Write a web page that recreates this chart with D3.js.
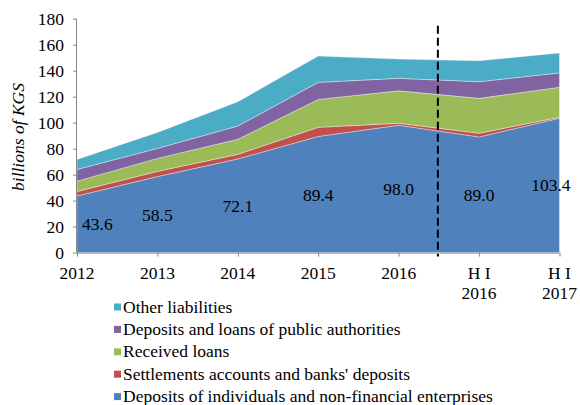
<!DOCTYPE html>
<html>
<head>
<meta charset="utf-8">
<script src="https://cdn.jsdelivr.net/npm/d3@7"></script>
<style>
  body { margin: 0; background: #fff; }
  svg { display: block; }
  text { font-family: "Liberation Serif", "Times New Roman", serif; fill: #000; }
</style>
</head>
<body>
<svg id="chart" width="580" height="405"></svg>
<script>
// ---- data ----
const categories = ["2012", "2013", "2014", "2015", "2016", "H I\n2016", "H I\n2017"];
const depositsIndividuals = [43.6, 58.5, 72.1, 89.4, 98.0, 89.0, 103.4];
const settlementsAccounts = [3.4, 4.0, 3.5, 7.0, 1.5, 2.8, 0.8];
const receivedLoans = [8.0, 10.0, 11.6, 21.5, 25.0, 26.9, 23.0];
const publicAuthorities = [9.0, 7.7, 10.2, 13.1, 9.6, 12.8, 11.1];
const otherLiabilities = [7.7, 12.3, 18.7, 20.2, 14.8, 16.1, 15.4];
const seriesNames = [
  "Deposits of individuals and non-financial enterprises",
  "Settlements accounts and banks' deposits",
  "Received loans",
  "Deposits and loans of public authorities",
  "Other liabilities"
];
const yTicks = [0, 20, 40, 60, 80, 100, 120, 140, 160, 180];

(function () {
// ---- setup ----
const FS = 17.5;
const colors = ["#4F81BD", "#C0504D", "#9BBB59", "#8064A2", "#4BACC6"];
const seriesValues = [depositsIndividuals, settlementsAccounts, receivedLoans, publicAuthorities, otherLiabilities];
const keys = seriesNames;
const rows = categories.map((c, i) => {
  const r = { cat: c };
  keys.forEach((k, j) => r[k] = seriesValues[j][i]);
  return r;
});

const svg = d3.select("#chart");
const pLeft = 77, pRight = 559.5, pTop = 18.7, pBottom = 252.6;

const x = d3.scalePoint().domain(categories).range([pLeft, pRight]);
const y = d3.scaleLinear().domain([0, 180]).range([pBottom, pTop]);

const layers = d3.stack().keys(keys)(rows);

const area = d3.area()
  .x(d => x(d.data.cat))
  .y0(d => y(d[0]))
  .y1(d => y(d[1]));

svg.append("g").selectAll("path")
  .data(layers)
  .join("path")
  .attr("d", area)
  .attr("fill", (d, i) => colors[i])
  .attr("stroke", "#ffffff")
  .attr("stroke-opacity", 0.6)
  .attr("stroke-width", 0.6);

// dashed separator between annual and half-year data
const midX = (x(categories[4]) + x(categories[5])) / 2 - 1;
svg.append("line")
  .attr("x1", midX).attr("x2", midX)
  .attr("y1", y(174.5)).attr("y2", pBottom + 4)
  .attr("stroke", "#000")
  .attr("stroke-width", 2)
  .attr("stroke-dasharray", "8,4");

// axes
const axisColor = "#868686";
const yAxis = svg.append("g")
  .attr("transform", `translate(${pLeft},0)`)
  .call(d3.axisLeft(y).tickValues(yTicks).tickSize(4).tickPadding(9).tickFormat(d3.format("d")));
yAxis.attr("font-family", null);
yAxis.select(".domain").attr("stroke", axisColor).attr("d", `M-0.5,${pTop}V${pBottom}`);
yAxis.selectAll(".tick line").attr("stroke", axisColor);
yAxis.selectAll(".tick text")
  .attr("font-size", FS)
  .attr("fill", "#000");

const xAxis = svg.append("g")
  .attr("transform", `translate(0,${pBottom})`)
  .call(d3.axisBottom(x).tickSize(4).tickFormat(""));
xAxis.select(".domain").attr("stroke", axisColor).attr("d", `M${pLeft},0.5H${pRight}`);
xAxis.selectAll(".tick line").attr("stroke", axisColor);

// x tick labels (multi-line)
const xl = svg.append("g");
categories.forEach(c => {
  const lines = c.split("\n");
  const t = xl.append("text")
    .attr("x", x(c))
    .attr("y", 279)
    .attr("text-anchor", "middle")
    .attr("font-size", FS);
  lines.forEach((ln, k) => {
    t.append("tspan").attr("x", x(c)).attr("dy", k === 0 ? 0 : 20).text(ln);
  });
});

// y axis title
svg.append("text")
  .attr("transform", "translate(24,137) rotate(-90)")
  .attr("text-anchor", "middle")
  .attr("font-size", FS)
  .attr("font-style", "italic")
  .text("billions of KGS");

// value labels for main series
const nLast = depositsIndividuals.length - 1;
svg.append("g").selectAll("text")
  .data(depositsIndividuals)
  .join("text")
  .attr("x", (d, i) => {
    const cx = x(categories[i]);
    if (i === 0) return cx + 5;
    if (i === nLast) return cx + 11;
    return cx;
  })
  .attr("y", d => y(d / 2) + 6)
  .attr("text-anchor", (d, i) => i === 0 ? "start" : (i === nLast ? "end" : "middle"))
  .attr("font-size", FS)
  .text(d => d.toFixed(1));

// legend (reverse order, top = Other liabilities)
const legendOrder = keys.map((k, i) => i).reverse();
const lg = svg.append("g");
legendOrder.forEach((si, r) => {
  const cy = 307 + r * 22.4;
  lg.append("rect")
    .attr("x", 114).attr("y", cy - 3.5)
    .attr("width", 7).attr("height", 7)
    .attr("fill", colors[si]);
  lg.append("text")
    .attr("x", 123).attr("y", cy + 5.5)
    .attr("font-size", FS)
    .text(keys[si]);
});
})();
</script>
</body>
</html>
